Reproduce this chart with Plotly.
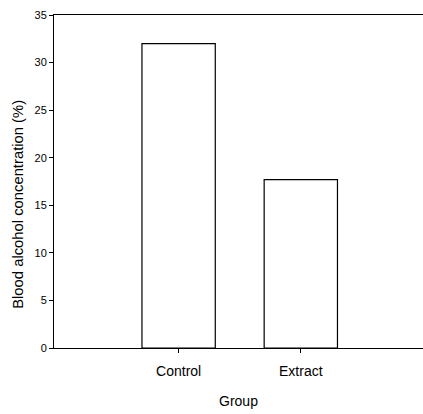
import plotly.graph_objects as go

# Blood alcohol by treatment group
groups = ["Control", "Extract"]
concentration = [32.0, 17.7]
y_ticks = [0, 5, 10, 15, 20, 25, 30, 35]

FONT = "Liberation Sans, Arial, sans-serif"

fig = go.Figure(
    go.Bar(
        x=[0, 1],
        y=concentration,
        width=0.6,
        marker=dict(color="white", line=dict(color="black", width=1.2)),
        showlegend=False,
    )
)

fig.update_layout(
    width=423,
    height=414,
    margin=dict(l=54, r=0, t=15, b=66),
    paper_bgcolor="white",
    plot_bgcolor="white",
    font=dict(family=FONT, color="black", size=12),
    xaxis=dict(
        range=[-1.02, 2.0],
        tickmode="array",
        tickvals=[0, 1],
        ticktext=groups,
        ticks="outside",
        ticklen=4,
        tickcolor="black",
        showline=True,
        linecolor="black",
        linewidth=1,
        mirror=True,
        showgrid=False,
        zeroline=False,
        tickfont=dict(size=14),
        ticklabelstandoff=6,
        title=dict(text="Group", font=dict(size=14), standoff=18),
    ),
    yaxis=dict(
        range=[0, 35],
        tickmode="array",
        tickvals=y_ticks,
        ticks="outside",
        ticklen=4,
        tickcolor="black",
        showline=True,
        linecolor="black",
        linewidth=1,
        showgrid=False,
        zeroline=False,
        tickfont=dict(size=11),
    ),
    annotations=[
        dict(
            text="Blood alcohol concentration (%)",
            textangle=-90,
            xref="paper",
            yref="paper",
            x=0,
            xshift=-36,
            xanchor="center",
            y=0.43,
            yanchor="middle",
            showarrow=False,
            font=dict(size=14.8),
        )
    ],
)

fig.write_html("out.html")
